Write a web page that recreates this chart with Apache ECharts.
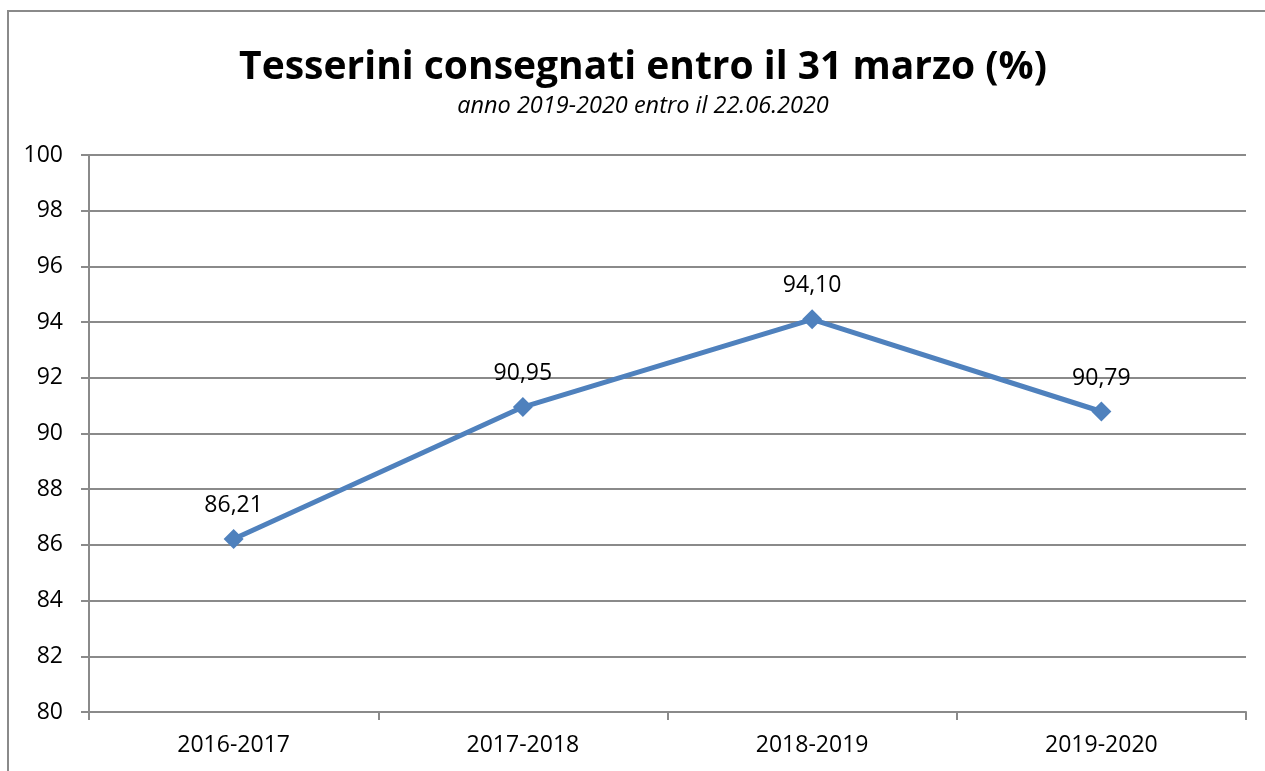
<!DOCTYPE html>
<html><head><meta charset="utf-8">
<script src="https://cdn.jsdelivr.net/npm/echarts@6/dist/echarts.min.js"></script>
<style>html,body{margin:0;padding:0;background:#fff}#c{width:1265px;height:771px}</style>
</head><body><div id="c"></div>
<script>
const categories = ['2016-2017','2017-2018','2018-2019','2019-2020'];
const values = [86.21, 90.95, 94.10, 90.79];
const yTicks = {min: 80, max: 100, interval: 2};
const titleText = 'Tesserini consegnati entro il 31 marzo (%)';
const subtitleText = 'anno 2019-2020 entro il 22.06.2020';

const FONT = 'Open Sans';
const chart = echarts.init(document.getElementById('c'), null, {renderer: 'canvas'});
chart.setOption({
  animation: false,
  backgroundColor: '#fff',
  graphic: [{
    type: 'rect', shape: {x: 8, y: 11, width: 1400, height: 900},
    style: {fill: 'none', stroke: '#8a8a8a', lineWidth: 2}, z: -1
  }],
  title: {
    text: titleText, subtext: subtitleText, left: 638, top: 43, textAlign: 'center',
    textStyle: {fontFamily: FONT, fontWeight: 'bold', fontSize: 39, color: '#000'},
    subtextStyle: {fontFamily: FONT, fontStyle: 'italic', fontSize: 23.5, color: '#000'},
    itemGap: 8
  },
  grid: {left: 89, top: 155, right: 19, bottom: 59},
  xAxis: {
    type: 'category', data: categories, boundaryGap: true,
    axisLine: {lineStyle: {color: '#8a8a8a', width: 2}},
    axisTick: {show: true, length: 8, lineStyle: {color: '#8a8a8a', width: 2}},
    axisLabel: {fontFamily: FONT, fontSize: 23, color: '#000', margin: 22}
  },
  yAxis: {
    type: 'value', min: yTicks.min, max: yTicks.max, interval: yTicks.interval,
    axisLine: {show: true, lineStyle: {color: '#8a8a8a', width: 2}},
    axisTick: {show: true, length: 8, lineStyle: {color: '#8a8a8a', width: 2}},
    splitLine: {lineStyle: {color: '#8a8a8a', width: 2}},
    axisLabel: {fontFamily: FONT, fontSize: 23, color: '#000', margin: 26}
  },
  series: [{
    type: 'line', data: values,
    lineStyle: {color: '#4F81BD', width: 5},
    itemStyle: {color: '#4F81BD'},
    symbol: 'diamond', symbolSize: 20,
    label: {
      show: true, position: 'top', distance: 12,
      fontFamily: FONT, fontSize: 23, color: '#000',
      formatter: p => p.value.toFixed(2).replace('.', ',')
    }
  }]
});
</script></body></html>
